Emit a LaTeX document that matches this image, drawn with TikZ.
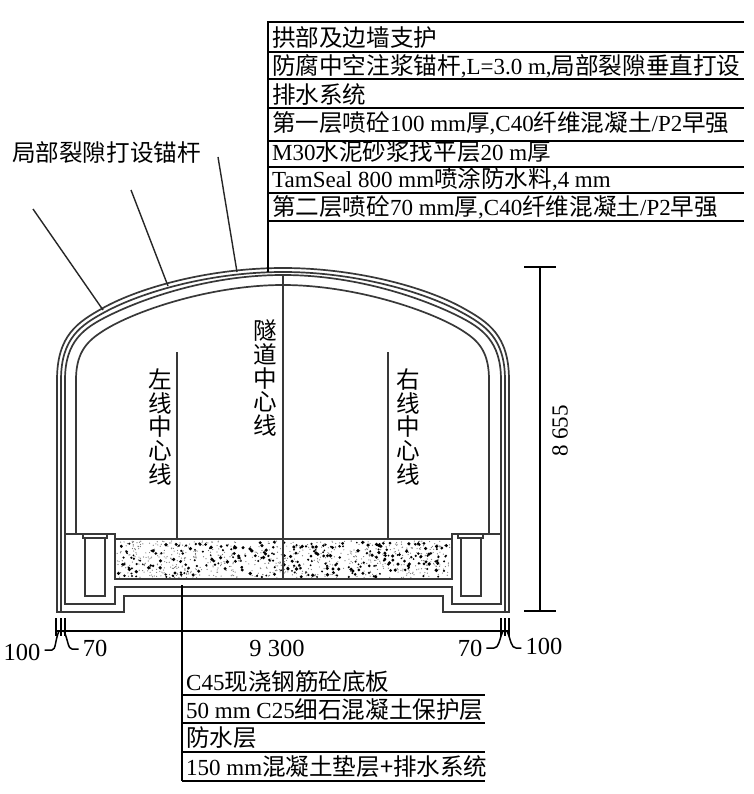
\documentclass[tikz,border=0pt]{standalone}
\usepackage{fontspec}
\setmainfont{Liberation Serif}
\newfontfamily\cjk[Scale=1.025]{Noto Sans CJK SC}
\newcommand{\zh}[1]{{\cjk #1}}
\begin{document}
\begin{tikzpicture}[x=1pt,y=-1pt,
  lining/.style={line width=1.7pt,draw=black!78},
  thinline/.style={line width=1.4pt,draw=black!85},
  rowline/.style={line width=1.7pt,draw=black},
  rowtext/.style={anchor=west,inner sep=0pt,font=\fontsize{23}{23}\selectfont},
  dimtext/.style={inner sep=0pt,font=\fontsize{24.5}{24.5}\selectfont},
  vtext/.style={inner sep=0pt,align=center,font=\fontsize{23}{23.6}\selectfont\cjk},
  dimline/.style={line width=1.5pt,draw=black,line join=round}]
\useasboundingbox (0,0) rectangle (753,794);
\fill[white] (0,0) rectangle (753,794);

% ---------- aggregate fill
\begin{scope}
\pgfmathsetseed{4242}
\foreach \i in {1,...,700}{
  \pgfmathsetmacro{\dx}{117+rnd*333}
  \pgfmathsetmacro{\dy}{541+rnd*37}
  \fill[black!55] (\dx,\dy) circle (0.6pt);
}
\foreach \i in {1,...,280}{
  \pgfmathsetmacro{\dx}{118+rnd*331}
  \pgfmathsetmacro{\dy}{542+rnd*35}
  \pgfmathsetmacro{\dr}{0.9+rnd*1.0}
  \fill[black] (\dx,\dy) circle (\dr pt);
}
\end{scope}

% ---------- arch layers
\draw[lining] (57,612) -- (57,380) .. controls (57,335) and (78,322) .. (103,308)
  .. controls (140,287.3) and (210,268) .. (283,268)
  .. controls (356,268) and (426,287.3) .. (463,308)
  .. controls (488,322) and (509,335) .. (509,380) -- (509,612) -- (443,612) -- (443,596)
  -- (124,596) -- (124,612) -- cycle;
\draw[lining] (61,612) -- (61,380) .. controls (61,338) and (81,325) .. (105,312)
  .. controls (142,292) and (210,272) .. (283,272)
  .. controls (356,272) and (424,292) .. (461,312)
  .. controls (485,325) and (505,338) .. (505,380) -- (505,612);
\draw[lining] (65,604) -- (65,380) .. controls (65,341) and (84,328) .. (108,316)
  .. controls (144,298) and (210,275) .. (283,275)
  .. controls (356,275) and (422,298) .. (458,316)
  .. controls (482,328) and (501,341) .. (501,380) -- (501,604) -- (452,604) -- (452,587)
  -- (115,587) -- (115,604) -- cycle;
% inner lining
\draw[lining] (76,534) -- (76,380) .. controls (76,355) and (85,343) .. (100,333)
  .. controls (130,312) and (210,285) .. (283,285)
  .. controls (356,285) and (436,312) .. (466,333)
  .. controls (481,343) and (489,355) .. (489,380) -- (489,534);
% ledges and slab
\draw[lining] (65,534) -- (115,534) -- (115,579) -- (452,579) -- (452,534) -- (501,534);
\draw[lining] (115,539) -- (452,539);
% drainage boxes
\draw[lining] (85,537) -- (85,596) -- (105,596) -- (105,537);
\draw[lining] (83,535) -- (83,538) -- (107,538) -- (107,535);
\draw[lining] (461,537) -- (461,596) -- (481,596) -- (481,537);
\draw[lining] (458,535) -- (458,538) -- (483,538) -- (483,535);

% ---------- centre lines
\draw[lining] (283,276) -- (283,579);
\draw[lining] (177,352) -- (177,539);
\draw[lining] (388,352) -- (388,539);

% ---------- top table
\draw[rowline] (744,22) -- (268,22) -- (268,272);
\foreach \yy in {52,79,108,141,167,193,221}{\draw[rowline] (268,\yy) -- (744,\yy);}
\node[rowtext] (t1) at (272,38) {\zh{拱部及边墙支护}};
\node[rowtext] (t2) at (272,66) {\zh{防腐中空注浆锚杆},L=3.0 m,\zh{局部裂隙垂直打设}};
\node[rowtext] (t3) at (272,95) {\zh{排水系统}};
\node[rowtext] (t4) at (272,123) {\zh{第一层喷砼}100 mm\zh{厚},C40\zh{纤维混凝土}/P2\zh{早强}};
\node[rowtext] (t5) at (272,152) {M30\zh{水泥砂浆找平层}20 m\zh{厚}};
\node[rowtext] (t6) at (272,179) {TamSeal 800 mm\zh{喷涂防水料},4 mm};
\node[rowtext] (t7) at (272,207) {\zh{第二层喷砼}70 mm\zh{厚},C40\zh{纤维混凝土}/P2\zh{早强}};

% ---------- bottom table
\draw[rowline] (182,585) -- (182,781);
\foreach \yy in {695,723,752,781}{\draw[rowline] (182,\yy) -- (485,\yy);}
\node[rowtext] (b1) at (186,682) {C45\zh{现浇钢筋砼底板}};
\node[rowtext] (b2) at (186,710) {50 mm C25\zh{细石混凝土保护层}};
\node[rowtext] (b3) at (186,738) {\zh{防水层}};
\node[rowtext] (b4) at (186,767) {150 mm\zh{混凝土垫层+排水系统}};

% ---------- anchor label and leaders
\node[rowtext] (anchorlabel) at (12,153) {\zh{局部裂隙打设锚杆}};
\coordinate (a1s) at (33,209);  \coordinate (a1e) at (103,310);
\coordinate (a2s) at (131,190); \coordinate (a2e) at (168,286);
\coordinate (a3s) at (218,157); \coordinate (a3e) at (237,272);
\draw[thinline] (a1s) -- (a1e);
\draw[thinline] (a2s) -- (a2e);
\draw[thinline] (a3s) -- (a3e);

% ---------- vertical labels
\node[vtext] (cl) at (265,378) {隧\\道\\中\\心\\线};
\node[vtext] (ll) at (160,427) {左\\线\\中\\心\\线};
\node[vtext] (rl) at (408,427) {右\\线\\中\\心\\线};

% ---------- dimensions
\draw[dimline] (540,267) -- (540,611);
\draw[dimline] (524,267) -- (556,267);
\draw[dimline] (524,611) -- (556,611);
\node[rowtext,anchor=center,rotate=90] (h) at (560,431) {8 655};

\draw[dimline] (57,631) -- (509,631);
\foreach \xx in {56,61,65,501,505,509}{\draw[dimline] (\xx,618) -- (\xx,636);}
\node[dimtext] (d100l) at (22,652) {100};
\node[dimtext] (d70l) at (95,648) {70};
\node[dimtext] (dmid) at (277,648) {9 300};
\node[dimtext] (d70r) at (470,648) {70};
\node[dimtext] (d100r) at (544,646) {100};
\draw[dimline] (d100l.east) ++(4,-2) -- (52,650) .. controls (56,650) and (55,640) .. (59,631);
\draw[dimline] (d70l.west) ++(-4,1) -- (72,649) .. controls (68,649) and (68,640) .. (64,631);
\draw[dimline] (d70r.east) ++(4,0) -- (494,648) .. controls (499,648) and (499,640) .. (503,631);
\draw[dimline] (d100r.west) ++(-4,2) -- (516,648) .. controls (511,648) and (511,640) .. (507,631);
\end{tikzpicture}
\end{document}
